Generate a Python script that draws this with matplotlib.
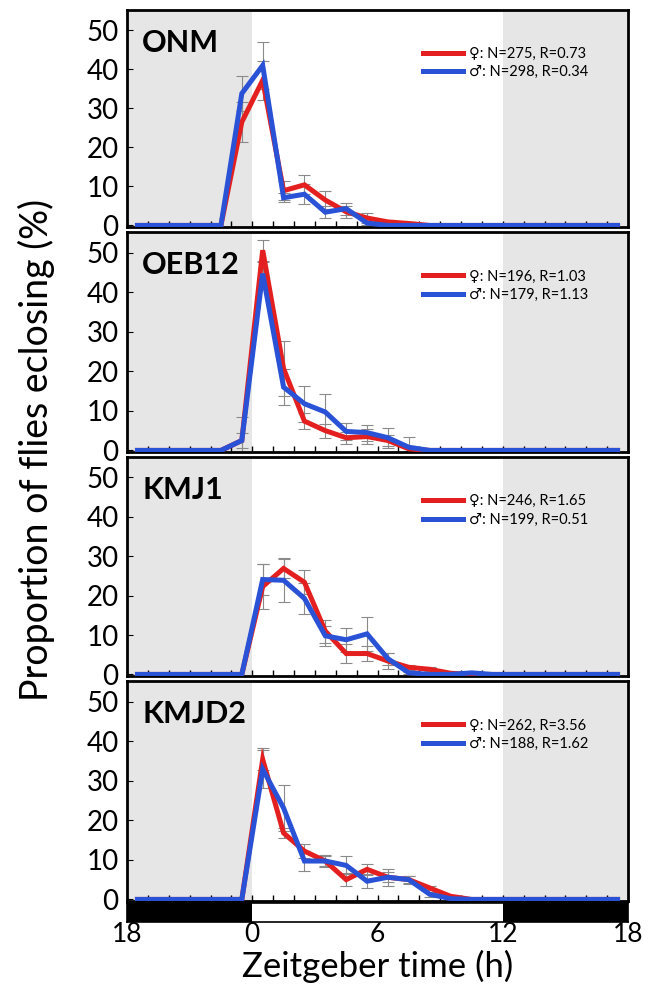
import matplotlib
matplotlib.use('Agg')
import matplotlib.pyplot as plt
import numpy as np

plt.rcParams['font.family'] = ['Lato', 'DejaVu Sans']

# hourly bins, centred on half hours (ZT, -6 .. 18)
zt = np.arange(-5.5, 18, 1.0)

strains = ['ONM', 'OEB12', 'KMJ1', 'KMJD2']
legend_f = ['N=275, R=0.73', 'N=196, R=1.03', 'N=246, R=1.65', 'N=262, R=3.56']
legend_m = ['N=298, R=0.34', 'N=179, R=1.13', 'N=199, R=0.51', 'N=188, R=1.62']

# values from ZT -1.5 onward (earlier bins are 0)
# ONM
onm_f = [0, 26.5, 37.2, 8.9, 10.4, 6.5, 3.5, 1.9, 0.9, 0.5, 0]
onm_m = [0, 33.8, 41.0, 7.1, 8.0, 3.4, 4.3, 0.6, 0, 0, 0]
onm_fe = [0, 5.0, 5.0, 2.5, 2.4, 2.2, 1.5, 1.2, 0.6, 0.3, 0]
onm_me = [0, 4.5, 6.0, 1.2, 2.6, 1.5, 1.5, 0.5, 0, 0, 0]
# OEB12
oeb_f = [0, 2.5, 50.6, 20.7, 7.4, 5.0, 3.2, 3.5, 2.5, 0.4, 0]
oeb_m = [0, 2.5, 44.7, 16.0, 11.8, 9.7, 4.8, 4.5, 3.2, 0.8, 0]
oeb_fe = [0, 2.0, 2.7, 7.0, 2.0, 1.8, 1.5, 2.0, 1.5, 0.6, 0]
oeb_me = [0, 6.0, 3.0, 4.5, 4.6, 4.6, 2.2, 2.0, 2.5, 2.6, 0]
# KMJ1
kmj_f = [0, 0, 22.3, 26.9, 23.4, 11.0, 5.3, 5.3, 3.4, 1.8, 1.3, 0.3, 0, 0]
kmj_m = [0, 0, 24.1, 23.9, 19.3, 9.8, 8.8, 10.3, 4.0, 0.4, 0, 0, 0.4, 0]
kmj_fe = [0, 0, 5.7, 2.5, 3.0, 2.9, 2.5, 2.0, 2.1, 0.6, 0.5, 0.2, 0, 0]
kmj_me = [0, 0, 4.0, 5.6, 4.0, 2.5, 3.0, 4.3, 1.5, 0.3, 0, 0, 0.3, 0]
# KMJD2
kmjd_f = [0, 0, 35.4, 16.8, 12.2, 9.7, 5.0, 7.6, 5.6, 5.0, 2.9, 0.8, 0]
kmjd_m = [0, 0, 32.9, 23.1, 9.7, 9.7, 8.6, 4.6, 5.6, 5.0, 1.3, 0.2, 0]
kmjd_fe = [0, 0, 2.8, 1.2, 1.8, 1.2, 1.6, 1.4, 1.3, 0.8, 0.6, 0.3, 0]
kmjd_me = [0, 0, 4.8, 5.9, 2.6, 1.6, 2.3, 1.7, 2.1, 1.0, 0.6, 0.2, 0]

female = [onm_f, oeb_f, kmj_f, kmjd_f]
male = [onm_m, oeb_m, kmj_m, kmjd_m]
female_err = [onm_fe, oeb_fe, kmj_fe, kmjd_fe]
male_err = [onm_me, oeb_me, kmj_me, kmjd_me]


def full(vals):
    """pad a series (starting at ZT -1.5) to the 24 hourly bins"""
    out = np.zeros(len(zt))
    start = 4  # index of ZT -1.5
    out[start:start + len(vals)] = vals
    return out


red = '#e3201f'
blue = '#2a52d6'
shade = '#e6e6e6'

W, H = 653, 986
fig = plt.figure(figsize=(W / 100, H / 100), dpi=100)

left, right = 127, 628
panels = [(10, 227), (232, 452), (457, 676), (681, 901)]

for i, (top, bot) in enumerate(panels):
    ax = fig.add_axes([left / W, 1 - bot / H, (right - left) / W, (bot - top) / H])
    ax.axvspan(-6, 0, color=shade, lw=0, zorder=0)
    ax.axvspan(12, 18, color=shade, lw=0, zorder=0)

    f = full(female[i])
    m = full(male[i])
    fe = full(female_err[i])
    me = full(male_err[i])
    sel_f = fe > 0
    sel_m = me > 0
    ax.errorbar(zt[sel_f], f[sel_f], yerr=fe[sel_f], fmt='none', ecolor='#8a8a8a',
                elinewidth=0.8, capsize=4, capthick=0.8, zorder=2)
    ax.errorbar(zt[sel_m], m[sel_m], yerr=me[sel_m], fmt='none', ecolor='#8a8a8a',
                elinewidth=0.8, capsize=4, capthick=0.8, zorder=2)
    ax.plot(zt, f, color=red, lw=3.6, solid_joinstyle='miter', zorder=3,
            label='\u2640: ' + legend_f[i])
    ax.plot(zt, m, color=blue, lw=3.6, solid_joinstyle='miter', zorder=4,
            label='\u2642: ' + legend_m[i])

    ax.set_xlim(-6, 18)
    ax.set_ylim(-0.4, 55.2)
    ax.set_yticks([0, 10, 20, 30, 40, 50])
    ax.set_xticks(np.arange(-5, 18, 1))
    ax.set_xticklabels([])
    ax.tick_params(axis='y', direction='in', length=4, width=0.8, labelsize=20, pad=6)
    ax.tick_params(axis='x', direction='in', length=4, width=1.0)
    for s in ax.spines.values():
        s.set_linewidth(2.0)

    ax.text(0.03, 0.85, strains[i], transform=ax.transAxes, fontsize=22,
            fontweight='bold', va='center', ha='left')
    leg = ax.legend(loc='upper left', bbox_to_anchor=(0.59, 0.83), frameon=False,
                    fontsize=10.5, handlelength=2.8, handletextpad=0.4,
                    labelspacing=0.3, borderpad=0, borderaxespad=0)

# light/dark bar
lax = fig.add_axes([left / W, 1 - 922 / H, (right - left) / W, 19 / H])
lax.axvspan(-6, 0, color='black', lw=0)
lax.axvspan(12, 18, color='black', lw=0)
lax.set_xlim(-6, 18)
lax.set_ylim(0, 1)
lax.set_yticks([])
lax.set_xticks([-6, 0, 6, 12, 18])
lax.set_xticklabels(['18', '0', '6', '12', '18'])
lax.tick_params(axis='x', length=0, labelsize=19, pad=0)
for s in lax.spines.values():
    s.set_linewidth(1.2)

fig.text(left / W + (right - left) / W / 2, 1 - 977 / H, 'Zeitgeber time (h)',
         ha='center', va='baseline', fontsize=25)
fig.text(36 / W, 1 - 450 / H, 'Proportion of flies eclosing (%)',
         rotation=90, ha='center', va='center', fontsize=27)

fig.savefig('out.png', dpi=100)
